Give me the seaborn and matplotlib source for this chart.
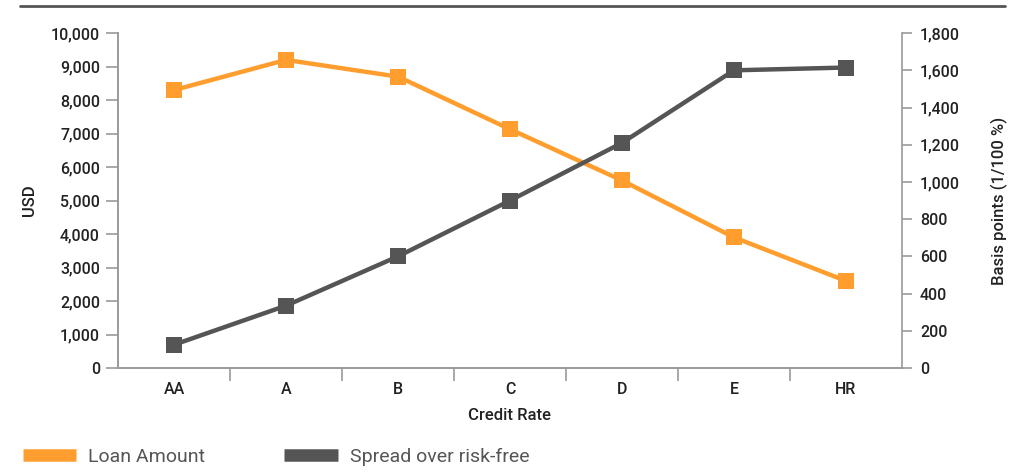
import pandas as pd
import matplotlib.pyplot as plt
import seaborn as sns
from matplotlib.lines import Line2D
from matplotlib.ticker import FuncFormatter, FixedLocator

# Данные
ratings = ['AA', 'A', 'B', 'C', 'D', 'E', 'HR']
loan_amount = [8300, 9200, 8700, 7130, 5600, 3900, 2600]
spread_bp = [125, 335, 600, 900, 1210, 1600, 1615]

orange = '#FF9E2E'
grey = '#555555'
axis_grey = '#9A9A9A'

sns.set_style('white')
plt.rcParams['font.family'] = ['Roboto', 'DejaVu Sans']

df = pd.DataFrame({'rating': ratings, 'loan': loan_amount, 'spread': spread_bp})

fig = plt.figure(figsize=(10.2, 4.73), dpi=100)
ax = fig.add_axes([0.1157, 0.222, 0.7686, 0.708])
ax2 = ax.twinx()

sns.lineplot(data=df, x='rating', y='loan', ax=ax, color=orange, lw=3.2,
             marker='s', markersize=11, markeredgewidth=0, sort=False)
sns.lineplot(data=df, x='rating', y='spread', ax=ax2, color=grey, lw=3.2,
             marker='s', markersize=11, markeredgewidth=0, sort=False)

ax.set_xlim(-0.5, len(ratings) - 0.5)
ax.set_ylim(0, 10000)
ax2.set_ylim(0, 1800)
ax.set_yticks(range(0, 10001, 1000))
ax2.set_yticks(range(0, 1801, 200))
fmt = FuncFormatter(lambda v, p: f'{int(v):,}')
ax.yaxis.set_major_formatter(fmt)
ax2.yaxis.set_major_formatter(fmt)

# Тики по границам категорий
ax.xaxis.set_minor_locator(FixedLocator([i + 0.5 for i in range(len(ratings) - 1)]))
ax.tick_params(axis='x', which='major', length=0, pad=10, labelsize=11.5, labelcolor='#222222')
ax.tick_params(axis='x', which='minor', length=9, width=1.2, color=axis_grey, direction='out', bottom=True)
ax.tick_params(axis='y', length=9, width=1.2, color=axis_grey, labelsize=11.5, labelcolor='#222222', pad=4, left=True)
ax2.tick_params(axis='y', length=7, width=1.2, color=axis_grey, labelsize=11.5, labelcolor='#222222', pad=6, right=True)

for lbl in ax.get_xticklabels() + ax.get_yticklabels() + ax2.get_yticklabels():
    lbl.set_fontweight('medium')

for a in (ax, ax2):
    a.spines['top'].set_visible(False)
    for s in ['left', 'right', 'bottom']:
        a.spines[s].set_color(axis_grey)
        a.spines[s].set_linewidth(1.2)
ax.spines['right'].set_visible(False)

ax.set_xlabel('Credit Rate', fontsize=12, fontweight='medium', color='#222222', labelpad=8)
ax.set_ylabel('USD', fontsize=12, fontweight='medium', color='#222222', labelpad=10)
ax2.set_ylabel('Basis points (1/100 %)', fontsize=12, fontweight='medium', color='#222222', labelpad=22)

# Верхняя линия
fig.add_artist(Line2D([0.02, 0.985], [0.987, 0.987], color=grey, lw=2))

handles = [Line2D([], [], color=orange, lw=9, solid_capstyle='butt'),
           Line2D([], [], color=grey, lw=9, solid_capstyle='butt')]
fig.legend(handles, ['Loan Amount', 'Spread over risk-free'], loc='lower left',
           bbox_to_anchor=(0.005, -0.022), ncol=2, frameon=False, fontsize=14,
           handlelength=2.73, handletextpad=0.62, columnspacing=4.1, labelcolor='#555555')

fig.savefig('out.png', dpi=100)
